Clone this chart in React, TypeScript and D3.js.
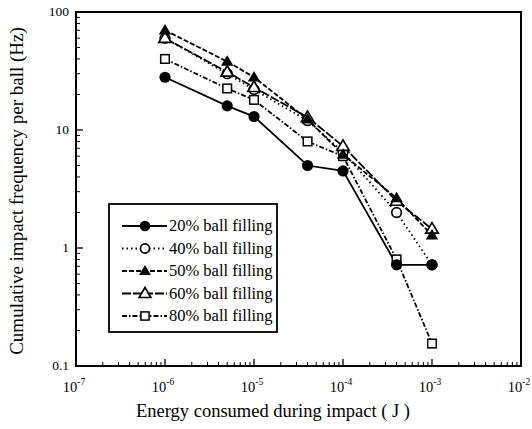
import React from "react";
import * as d3 from "d3";

const energies = [1e-6, 5e-6, 1e-5, 4e-5, 1e-4, 4e-4, 1e-3];
const s20 = [28, 16, 13, 5, 4.5, 0.72, 0.72];
const s40 = [60, 30, 22, 12, 6.5, 2.0, 0.72];
const s50 = [70, 38, 28, 12.3, 6.2, 2.65, 1.28];
const s60 = [60, 31, 23, 12.8, 7.3, 2.5, 1.45];
const s80 = [40, 22.5, 18, 8, 6, 0.8, 0.155];
const seriesNames = ["20% ball filling", "40% ball filling", "50% ball filling", "60% ball filling", "80% ball filling"];
const xTickExps = [-7, -6, -5, -4, -3, -2];
const yTickLabels = ["0.1", "1", "10", "100"];
const yTickValues = [0.1, 1, 10, 100];

const W = 532, H = 429;
const L = 76, R = 521, T = 12, B = 366;
const FONT = "'Liberation Serif', 'DejaVu Serif', serif";

type Marker = "fcircle" | "ocircle" | "ftri" | "otri" | "osquare";
const styles: { marker: Marker; dash: string }[] = [
  { marker: "fcircle", dash: "none" },
  { marker: "ocircle", dash: "1.5,3" },
  { marker: "ftri", dash: "5,2" },
  { marker: "otri", dash: "9,2" },
  { marker: "osquare", dash: "5,2,1.5,2" },
];
const allSeries = [s20, s40, s50, s60, s80];

function MarkerShape({ kind, x, y, s = 1 }: { kind: Marker; x: number; y: number; s?: number }) {
  const sw = 1.7;
  if (kind === "fcircle") return <circle cx={x} cy={y} r={5.6 * s} fill="#000" />;
  if (kind === "ocircle") return <circle cx={x} cy={y} r={4.8 * s} fill="#fff" stroke="#000" strokeWidth={sw} />;
  if (kind === "ftri" || kind === "otri") {
    const h = 10.5 * s, w = 6.2 * s;
    const p = `${x},${y - h * 0.6} ${x - w},${y + h * 0.4} ${x + w},${y + h * 0.4}`;
    return kind === "ftri" ? <polygon points={p} fill="#000" /> : <polygon points={p} fill="#fff" stroke="#000" strokeWidth={sw} />;
  }
  const a = 4.3 * s;
  return <rect x={x - a} y={y - a} width={2 * a} height={2 * a} fill="#fff" stroke="#000" strokeWidth={1.5} />;
}

export default function App() {
  const x = d3.scaleLog().domain([1e-7, 1e-2]).range([L, R]);
  const y = d3.scaleLog().domain([0.1, 100]).range([B, T]);
  const line = d3.line<[number, number]>().x((d) => x(d[0])).y((d) => y(d[1]));

  const xMinor: number[] = [];
  for (let e = -7; e < -2; e++) for (let k = 2; k <= 9; k++) xMinor.push(k * Math.pow(10, e));
  const yMinor: number[] = [];
  for (let e = -1; e < 2; e++) for (let k = 2; k <= 9; k++) yMinor.push(k * Math.pow(10, e));

  const legX = 109, legY = 204, legW = 168, legH = 128;
  return (
    <svg width={W} height={H} style={{ position: "absolute", left: 0, top: 0, background: "#fff" }} fontFamily={FONT}>
      <rect x={0} y={0} width={W} height={H} fill="#fff" />
      {allSeries.map((vals, i) => (
        <path key={"l" + i} d={line(energies.map((e, j) => [e, vals[j]] as [number, number])) || ""} fill="none" stroke="#000" strokeWidth={1.8} strokeDasharray={styles[i].dash} />
      ))}
      {[4, 1, 0, 3, 2].map((i) => (
        <g key={"m" + i}>
          {energies.map((e, j) => (
            <MarkerShape key={j} kind={styles[i].marker} x={x(e)} y={y(allSeries[i][j])} />
          ))}
        </g>
      ))}
      <rect x={L} y={T} width={R - L} height={B - T} fill="none" stroke="#000" strokeWidth={2} />
      {xTickExps.map((e) => (
        <g key={"xt" + e}>
          <line x1={x(Math.pow(10, e))} x2={x(Math.pow(10, e))} y1={B} y2={B - 7} stroke="#000" strokeWidth={1.3} />
          <text x={x(Math.pow(10, e)) - 2} y={392} textAnchor="middle" fontSize={14.5}>
            10<tspan dy={-7} fontSize={9.5}>{String(e)}</tspan>
          </text>
        </g>
      ))}
      {xMinor.map((v, i) => (
        <line key={"xm" + i} x1={x(v)} x2={x(v)} y1={B} y2={B - 4} stroke="#000" strokeWidth={1} />
      ))}
      {yTickValues.map((v, i) => (
        <g key={"yt" + i}>
          <line x1={L} x2={L + 7} y1={y(v)} y2={y(v)} stroke="#000" strokeWidth={1.3} />
          <text x={69} y={y(v) + 4} textAnchor="end" fontSize={13.5}>{yTickLabels[i]}</text>
        </g>
      ))}
      {yMinor.map((v, i) => (
        <line key={"ym" + i} x1={L} x2={L + 4} y1={y(v)} y2={y(v)} stroke="#000" strokeWidth={1} />
      ))}
      <text x={273} y={417} textAnchor="middle" fontSize={18.5}>Energy consumed during impact ( J )</text>
      <text transform={`translate(23,${(T + B) / 2 + 2}) rotate(-90)`} textAnchor="middle" fontSize={19}>Cumulative impact frequency per ball (Hz)</text>
      <rect x={legX} y={legY} width={legW} height={legH} fill="#fff" stroke="#000" strokeWidth={1.8} />
      {seriesNames.map((name, i) => {
        const yy = legY + 22 + i * 22.5;
        return (
          <g key={"lg" + i}>
            <line x1={122} x2={167} y1={yy} y2={yy} stroke="#000" strokeWidth={1.8} strokeDasharray={styles[i].dash} />
            <MarkerShape kind={styles[i].marker} x={145} y={yy} s={0.95} />
            <text x={169} y={yy + 5} fontSize={16.5}>{name}</text>
          </g>
        );
      })}
    </svg>
  );
}
